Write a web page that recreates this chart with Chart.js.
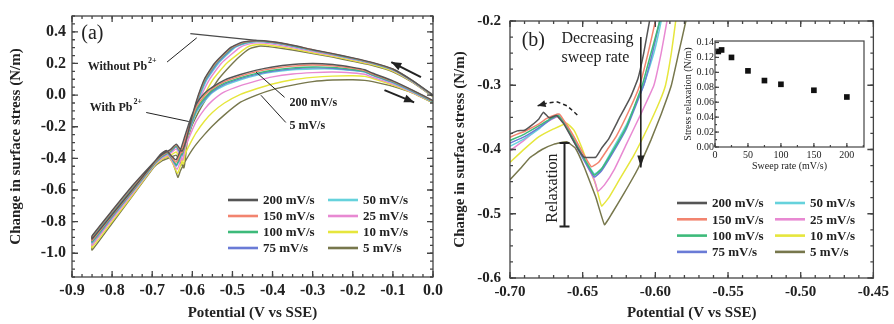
<!DOCTYPE html>
<html>
<head>
<meta charset="utf-8">
<script src="https://cdn.jsdelivr.net/npm/chart.js@4.4.1/dist/chart.umd.min.js"></script>
<style>
  html, body { margin: 0; padding: 0; background: #fff; }
  #wrap { position: relative; width: 894px; height: 324px; }
  canvas { position: absolute; }
</style>
</head>
<body>
<div id="wrap">
  <canvas id="chartA" width="447" height="324" style="left:0;top:0;width:447px;height:324px"></canvas>
  <canvas id="chartB" width="447" height="324" style="left:447px;top:0;width:447px;height:324px"></canvas>
  <canvas id="chartInset" width="190" height="145" style="left:680px;top:32px;width:190px;height:145px"></canvas>
</div>
<script>
// ---- data ----
const rateLabels = ['200 mV/s', '150 mV/s', '100 mV/s', '75 mV/s', '50 mV/s', '25 mV/s', '10 mV/s', '5 mV/s'];
const rateColors = ['#555555', '#f2846f', '#3dba7a', '#6a7bd6', '#66d2dc', '#e889d2', '#e6e63c', '#77774c'];

// panel (a): full loops, negative sweep from 0 V then positive sweep back
const loopA200 = [[0,0.0],[-0.05,0.09],[-0.10,0.165],[-0.15,0.205],[-0.20,0.235],[-0.25,0.262],[-0.30,0.287],[-0.35,0.315],[-0.40,0.337],[-0.44,0.345],[-0.475,0.335],[-0.505,0.30],[-0.545,0.20],[-0.570,0.10],[-0.585,0.0],[-0.597,-0.10],[-0.607,-0.20],[-0.617,-0.30],[-0.626,-0.355],[-0.64,-0.31],[-0.655,-0.345],[-0.675,-0.375],[-0.70,-0.435],[-0.75,-0.575],[-0.80,-0.73],[-0.85,-0.89],
  [-0.85,-0.91],[-0.80,-0.755],[-0.75,-0.60],[-0.70,-0.44],[-0.68,-0.375],[-0.665,-0.35],[-0.652,-0.385],[-0.641,-0.41],[-0.63,-0.35],[-0.62,-0.27],[-0.61,-0.19],[-0.60,-0.12],[-0.59,-0.055],[-0.57,0.01],[-0.55,0.05],[-0.52,0.095],[-0.48,0.13],[-0.44,0.158],[-0.40,0.178],[-0.35,0.193],[-0.30,0.20],[-0.25,0.193],[-0.20,0.175],[-0.17,0.16],[-0.15,0.138],[-0.10,0.09],[-0.05,0.03],[0,-0.035]];
const loopA150 = [[0,-0.002],[-0.05,0.089],[-0.10,0.164],[-0.15,0.204],[-0.20,0.234],[-0.25,0.261],[-0.30,0.286],[-0.35,0.314],[-0.40,0.336],[-0.44,0.344],[-0.473,0.333],[-0.503,0.30],[-0.543,0.20],[-0.569,0.10],[-0.584,0.0],[-0.596,-0.10],[-0.607,-0.20],[-0.617,-0.30],[-0.626,-0.365],[-0.64,-0.315],[-0.655,-0.35],[-0.675,-0.38],[-0.70,-0.44],[-0.75,-0.58],[-0.80,-0.735],[-0.85,-0.895],
  [-0.85,-0.92],[-0.80,-0.76],[-0.75,-0.605],[-0.70,-0.445],[-0.68,-0.38],[-0.665,-0.352],[-0.652,-0.39],[-0.641,-0.425],[-0.63,-0.37],[-0.62,-0.29],[-0.61,-0.21],[-0.60,-0.14],[-0.59,-0.075],[-0.57,-0.005],[-0.55,0.04],[-0.52,0.085],[-0.48,0.12],[-0.44,0.148],[-0.40,0.168],[-0.35,0.183],[-0.30,0.19],[-0.25,0.185],[-0.20,0.17],[-0.17,0.155],[-0.15,0.133],[-0.10,0.087],[-0.05,0.028],[0,-0.037]];
const loopA100 = [[0,-0.003],[-0.05,0.088],[-0.10,0.162],[-0.15,0.202],[-0.20,0.232],[-0.25,0.259],[-0.30,0.284],[-0.35,0.312],[-0.40,0.334],[-0.44,0.342],[-0.471,0.331],[-0.50,0.30],[-0.541,0.20],[-0.567,0.10],[-0.583,0.0],[-0.596,-0.10],[-0.607,-0.20],[-0.617,-0.30],[-0.626,-0.375],[-0.64,-0.32],[-0.655,-0.355],[-0.675,-0.385],[-0.70,-0.445],[-0.75,-0.585],[-0.80,-0.74],[-0.85,-0.90],
  [-0.85,-0.925],[-0.80,-0.765],[-0.75,-0.61],[-0.70,-0.45],[-0.68,-0.385],[-0.665,-0.355],[-0.652,-0.395],[-0.64,-0.44],[-0.63,-0.385],[-0.62,-0.305],[-0.61,-0.225],[-0.60,-0.155],[-0.59,-0.09],[-0.57,-0.02],[-0.55,0.03],[-0.52,0.075],[-0.48,0.11],[-0.44,0.137],[-0.40,0.157],[-0.35,0.172],[-0.30,0.178],[-0.25,0.175],[-0.20,0.162],[-0.17,0.15],[-0.15,0.128],[-0.10,0.083],[-0.05,0.025],[0,-0.04]];
const loopA75 = [[0,-0.004],[-0.05,0.087],[-0.10,0.161],[-0.15,0.201],[-0.20,0.231],[-0.25,0.258],[-0.30,0.283],[-0.35,0.31],[-0.40,0.332],[-0.44,0.34],[-0.469,0.329],[-0.497,0.30],[-0.538,0.20],[-0.565,0.10],[-0.582,0.0],[-0.595,-0.10],[-0.607,-0.20],[-0.617,-0.30],[-0.626,-0.38],[-0.64,-0.325],[-0.655,-0.358],[-0.675,-0.388],[-0.70,-0.448],[-0.75,-0.588],[-0.80,-0.745],[-0.85,-0.905],
  [-0.85,-0.93],[-0.80,-0.77],[-0.75,-0.612],[-0.70,-0.452],[-0.68,-0.387],[-0.665,-0.357],[-0.652,-0.397],[-0.64,-0.445],[-0.63,-0.39],[-0.62,-0.31],[-0.61,-0.235],[-0.60,-0.165],[-0.59,-0.10],[-0.57,-0.03],[-0.55,0.022],[-0.52,0.068],[-0.48,0.104],[-0.44,0.131],[-0.40,0.151],[-0.35,0.166],[-0.30,0.172],[-0.25,0.17],[-0.20,0.158],[-0.17,0.147],[-0.15,0.125],[-0.10,0.08],[-0.05,0.022],[0,-0.042]];
const loopA50 = [[0,-0.005],[-0.05,0.086],[-0.10,0.16],[-0.15,0.20],[-0.20,0.229],[-0.25,0.256],[-0.30,0.281],[-0.35,0.308],[-0.40,0.33],[-0.435,0.338],[-0.466,0.328],[-0.494,0.30],[-0.535,0.20],[-0.563,0.10],[-0.58,0.0],[-0.594,-0.10],[-0.607,-0.20],[-0.617,-0.30],[-0.626,-0.385],[-0.64,-0.327],[-0.655,-0.36],[-0.675,-0.39],[-0.70,-0.45],[-0.75,-0.59],[-0.80,-0.75],[-0.85,-0.91],
  [-0.85,-0.935],[-0.80,-0.772],[-0.75,-0.615],[-0.70,-0.455],[-0.68,-0.39],[-0.665,-0.36],[-0.652,-0.40],[-0.64,-0.45],[-0.63,-0.395],[-0.62,-0.32],[-0.61,-0.245],[-0.60,-0.175],[-0.59,-0.11],[-0.57,-0.04],[-0.55,0.015],[-0.52,0.06],[-0.48,0.097],[-0.44,0.125],[-0.40,0.145],[-0.35,0.16],[-0.30,0.165],[-0.25,0.165],[-0.20,0.155],[-0.17,0.145],[-0.15,0.123],[-0.10,0.078],[-0.05,0.02],[0,-0.043]];
const loopA25 = [[0,-0.006],[-0.05,0.084],[-0.10,0.157],[-0.15,0.197],[-0.20,0.225],[-0.25,0.251],[-0.30,0.275],[-0.35,0.30],[-0.40,0.322],[-0.435,0.33],[-0.46,0.322],[-0.482,0.30],[-0.528,0.20],[-0.557,0.10],[-0.577,0.0],[-0.592,-0.10],[-0.606,-0.20],[-0.616,-0.30],[-0.624,-0.41],[-0.64,-0.34],[-0.655,-0.37],[-0.675,-0.398],[-0.70,-0.455],[-0.75,-0.597],[-0.80,-0.76],[-0.85,-0.925],
  [-0.85,-0.95],[-0.80,-0.785],[-0.75,-0.625],[-0.70,-0.46],[-0.68,-0.398],[-0.664,-0.37],[-0.652,-0.41],[-0.638,-0.47],[-0.63,-0.42],[-0.62,-0.345],[-0.61,-0.28],[-0.60,-0.22],[-0.59,-0.165],[-0.57,-0.09],[-0.55,-0.035],[-0.52,0.02],[-0.48,0.06],[-0.44,0.09],[-0.40,0.115],[-0.35,0.133],[-0.30,0.142],[-0.25,0.146],[-0.20,0.14],[-0.17,0.132],[-0.15,0.112],[-0.10,0.07],[-0.05,0.016],[0,-0.045]];
const loopA10 = [[0,-0.008],[-0.05,0.081],[-0.10,0.152],[-0.15,0.192],[-0.20,0.219],[-0.25,0.245],[-0.30,0.268],[-0.35,0.292],[-0.40,0.312],[-0.43,0.32],[-0.45,0.315],[-0.465,0.30],[-0.515,0.20],[-0.548,0.10],[-0.57,0.0],[-0.588,-0.10],[-0.604,-0.20],[-0.615,-0.30],[-0.622,-0.435],[-0.64,-0.36],[-0.655,-0.382],[-0.675,-0.405],[-0.70,-0.46],[-0.75,-0.603],[-0.80,-0.77],[-0.85,-0.94],
  [-0.85,-0.965],[-0.80,-0.80],[-0.75,-0.635],[-0.70,-0.465],[-0.68,-0.405],[-0.662,-0.38],[-0.65,-0.425],[-0.637,-0.495],[-0.63,-0.45],[-0.62,-0.385],[-0.61,-0.33],[-0.60,-0.28],[-0.59,-0.235],[-0.57,-0.165],[-0.55,-0.11],[-0.52,-0.05],[-0.48,0.005],[-0.44,0.04],[-0.40,0.07],[-0.35,0.097],[-0.30,0.112],[-0.25,0.12],[-0.20,0.122],[-0.17,0.118],[-0.15,0.105],[-0.10,0.064],[-0.05,0.013],[0,-0.048]];
const loopA5 = [[0,-0.01],[-0.05,0.078],[-0.10,0.147],[-0.15,0.187],[-0.20,0.213],[-0.25,0.24],[-0.30,0.262],[-0.35,0.285],[-0.40,0.303],[-0.43,0.31],[-0.455,0.295],[-0.475,0.26],[-0.50,0.20],[-0.535,0.10],[-0.56,0.0],[-0.583,-0.10],[-0.602,-0.20],[-0.613,-0.30],[-0.621,-0.46],[-0.64,-0.38],[-0.655,-0.395],[-0.675,-0.415],[-0.70,-0.465],[-0.75,-0.61],[-0.80,-0.78],[-0.85,-0.95],
  [-0.85,-0.98],[-0.80,-0.81],[-0.75,-0.64],[-0.70,-0.47],[-0.68,-0.41],[-0.66,-0.39],[-0.648,-0.43],[-0.636,-0.52],[-0.63,-0.48],[-0.62,-0.43],[-0.61,-0.385],[-0.60,-0.345],[-0.59,-0.31],[-0.57,-0.25],[-0.55,-0.195],[-0.52,-0.125],[-0.48,-0.045],[-0.44,0.0],[-0.40,0.035],[-0.35,0.063],[-0.30,0.085],[-0.25,0.095],[-0.20,0.097],[-0.17,0.093],[-0.15,0.085],[-0.10,0.055],[-0.05,0.012],[0,-0.05]];
const noPbA = [[-0.605,0.388],[-0.52,0.366],[-0.44,0.346]];

// panel (b): zoom on the Pb UPD peak, positive sweep
const sweepB200 = [[-0.70,-0.376],[-0.695,-0.371],[-0.69,-0.37],[-0.685,-0.362],[-0.68,-0.352],[-0.677,-0.342],[-0.673,-0.351],[-0.668,-0.347],[-0.663,-0.36],[-0.658,-0.38],[-0.653,-0.40],[-0.649,-0.412],[-0.641,-0.412],[-0.637,-0.398],[-0.632,-0.383],[-0.625,-0.352],[-0.617,-0.318],[-0.612,-0.29],[-0.608,-0.25],[-0.604,-0.20],[-0.60,-0.16]];
const sweepB150 = [[-0.70,-0.381],[-0.695,-0.376],[-0.69,-0.372],[-0.685,-0.366],[-0.68,-0.36],[-0.675,-0.352],[-0.67,-0.347],[-0.666,-0.345],[-0.662,-0.358],[-0.656,-0.38],[-0.65,-0.405],[-0.644,-0.427],[-0.639,-0.42],[-0.633,-0.40],[-0.627,-0.38],[-0.618,-0.339],[-0.611,-0.302],[-0.605,-0.25],[-0.60,-0.20],[-0.597,-0.16]];
const sweepB100 = [[-0.70,-0.386],[-0.69,-0.376],[-0.68,-0.363],[-0.672,-0.352],[-0.667,-0.347],[-0.662,-0.36],[-0.656,-0.385],[-0.65,-0.41],[-0.642,-0.44],[-0.637,-0.43],[-0.63,-0.405],[-0.62,-0.365],[-0.609,-0.30],[-0.603,-0.25],[-0.597,-0.20],[-0.594,-0.16]];
const sweepB75 = [[-0.70,-0.39],[-0.69,-0.38],[-0.68,-0.366],[-0.672,-0.353],[-0.667,-0.348],[-0.662,-0.362],[-0.656,-0.388],[-0.65,-0.413],[-0.642,-0.443],[-0.637,-0.433],[-0.63,-0.408],[-0.62,-0.368],[-0.608,-0.30],[-0.602,-0.25],[-0.597,-0.20],[-0.594,-0.16]];
const sweepB50 = [[-0.70,-0.395],[-0.69,-0.383],[-0.68,-0.368],[-0.672,-0.352],[-0.667,-0.345],[-0.662,-0.36],[-0.656,-0.386],[-0.65,-0.41],[-0.642,-0.438],[-0.637,-0.43],[-0.63,-0.402],[-0.62,-0.362],[-0.608,-0.30],[-0.601,-0.25],[-0.596,-0.20],[-0.593,-0.16]];
const sweepB25 = [[-0.70,-0.402],[-0.69,-0.385],[-0.68,-0.366],[-0.672,-0.354],[-0.667,-0.349],[-0.662,-0.358],[-0.654,-0.39],[-0.647,-0.425],[-0.642,-0.447],[-0.6395,-0.465],[-0.635,-0.455],[-0.628,-0.43],[-0.62,-0.392],[-0.61,-0.345],[-0.601,-0.30],[-0.596,-0.25],[-0.592,-0.20],[-0.589,-0.16]];
const sweepB10 = [[-0.70,-0.42],[-0.69,-0.399],[-0.68,-0.38],[-0.67,-0.368],[-0.661,-0.359],[-0.656,-0.37],[-0.651,-0.395],[-0.646,-0.425],[-0.641,-0.455],[-0.637,-0.488],[-0.632,-0.475],[-0.625,-0.448],[-0.615,-0.41],[-0.605,-0.365],[-0.597,-0.325],[-0.593,-0.30],[-0.589,-0.25],[-0.586,-0.20],[-0.584,-0.16]];
const sweepB5 = [[-0.70,-0.447],[-0.693,-0.43],[-0.686,-0.412],[-0.678,-0.40],[-0.67,-0.392],[-0.661,-0.388],[-0.655,-0.398],[-0.649,-0.427],[-0.641,-0.474],[-0.635,-0.517],[-0.63,-0.50],[-0.622,-0.47],[-0.612,-0.43],[-0.603,-0.385],[-0.596,-0.345],[-0.589,-0.30],[-0.584,-0.25],[-0.579,-0.20],[-0.576,-0.16]];

// inset: stress relaxation vs sweep rate
const insetRates = [5, 10, 25, 50, 75, 100, 150, 200];
const insetRelax = [0.128, 0.130, 0.120, 0.102, 0.089, 0.084, 0.076, 0.067];

// tick labels
const xTicksA = [-0.9, -0.8, -0.7, -0.6, -0.5, -0.4, -0.3, -0.2, -0.1, 0.0];
const yTicksA = [-1.0, -0.8, -0.6, -0.4, -0.2, 0.0, 0.2, 0.4];
const xTicksB = [-0.70, -0.65, -0.60, -0.55, -0.50, -0.45];
const yTicksB = [-0.6, -0.5, -0.4, -0.3, -0.2];
const xTicksInset = [0, 50, 100, 150, 200];
const yTicksInset = [0, 0.02, 0.04, 0.06, 0.08, 0.10, 0.12, 0.14];

const loopsA = [loopA200, loopA150, loopA100, loopA75, loopA50, loopA25, loopA10, loopA5];
const sweepsB = [sweepB200, sweepB150, sweepB100, sweepB75, sweepB50, sweepB25, sweepB10, sweepB5];

// ---- style ----
const SERIF = "'Liberation Serif', 'Times New Roman', serif";
const INK = '#222';
const toPts = (arr) => arr.map(([x, y]) => ({ x, y }));

// frame on all four sides with ticks pointing inwards (Origin look)
const frameTicks = {
  id: 'frameTicks',
  afterDraw(chart, args, o) {
    const { ctx, chartArea: a, scales: { x, y } } = chart;
    const sides = o.sides || 'lbtr';
    ctx.save();
    ctx.strokeStyle = '#444';
    ctx.lineWidth = o.lineWidth || 1.3;
    ctx.strokeRect(a.left, a.top, a.right - a.left, a.bottom - a.top);
    const tick = (scale, v, len) => {
      const p = scale.getPixelForValue(v);
      ctx.beginPath();
      if (scale === x) {
        if (sides.includes('b')) { ctx.moveTo(p, a.bottom); ctx.lineTo(p, a.bottom - len); }
        if (sides.includes('t')) { ctx.moveTo(p, a.top); ctx.lineTo(p, a.top + len); }
      } else {
        if (sides.includes('l')) { ctx.moveTo(a.left, p); ctx.lineTo(a.left + len, p); }
        if (sides.includes('r')) { ctx.moveTo(a.right, p); ctx.lineTo(a.right - len, p); }
      }
      ctx.stroke();
    };
    for (const [scale, step] of [[x, o.xMinor], [y, o.yMinor]]) {
      const n0 = Math.ceil(scale.min / step - 1e-6), n1 = Math.floor(scale.max / step + 1e-6);
      for (let n = n0; n <= n1; n++) tick(scale, n * step, o.minorLen || 3);
      scale.ticks.forEach((t) => tick(scale, t.value, o.majorLen || 6));
    }
    ctx.restore();
  },
};

function arrowHead(ctx, from, to, len, half) {
  const ang = Math.atan2(to[1] - from[1], to[0] - from[0]);
  ctx.beginPath();
  ctx.moveTo(to[0], to[1]);
  ctx.lineTo(to[0] - len * Math.cos(ang) + half * Math.sin(ang), to[1] - len * Math.sin(ang) - half * Math.cos(ang));
  ctx.lineTo(to[0] - len * Math.cos(ang) - half * Math.sin(ang), to[1] - len * Math.sin(ang) + half * Math.cos(ang));
  ctx.closePath();
  ctx.fill();
}

// labels, leader lines and arrows placed in data coordinates
const notes = {
  id: 'notes',
  afterDatasetsDraw(chart, args, o) {
    const { ctx, scales: { x, y } } = chart;
    ctx.save();
    for (const n of o.items || []) {
      ctx.strokeStyle = ctx.fillStyle = n.color || INK;
      if (n.text) {
        ctx.save();
        ctx.translate(x.getPixelForValue(n.at[0]), y.getPixelForValue(n.at[1]));
        if (n.rotate) ctx.rotate(n.rotate);
        ctx.font = n.font;
        ctx.textBaseline = 'middle';
        ctx.textAlign = n.align || 'left';
        ctx.fillText(n.text, 0, 0);
        if (n.sup) {
          const w = ctx.measureText(n.text).width;
          ctx.font = n.supFont;
          ctx.textAlign = 'left';
          ctx.fillText(n.sup, w + 1, -6);
        }
        ctx.restore();
      } else if (n.path) {
        const pts = n.path.map(([a, b]) => [x.getPixelForValue(a), y.getPixelForValue(b)]);
        ctx.lineWidth = n.width || 1;
        ctx.setLineDash(n.dash || []);
        ctx.beginPath();
        pts.forEach(([a, b], i) => (i ? ctx.lineTo(a, b) : ctx.moveTo(a, b)));
        ctx.stroke();
        ctx.setLineDash([]);
        if (n.head) arrowHead(ctx, pts[pts.length - 2], pts[pts.length - 1], n.head[0], n.head[1]);
        if (n.caps) {
          ctx.beginPath();
          for (const [a, b] of [pts[0], pts[pts.length - 1]]) { ctx.moveTo(a - n.caps, b); ctx.lineTo(a + n.caps, b); }
          ctx.stroke();
        }
      }
    }
    ctx.restore();
  },
};

// two-column legend drawn inside the plot
const boxLegend = {
  id: 'boxLegend',
  afterDraw(chart, args, o) {
    if (!o.cols) return;
    const { ctx } = chart;
    const items = chart.data.datasets.filter((d) => !d.noLegend);
    ctx.save();
    ctx.font = o.font;
    ctx.textBaseline = 'middle';
    ctx.fillStyle = INK;
    items.forEach((d, i) => {
      const col = Math.floor(i / o.rows), row = i % o.rows;
      const lx = o.cols[col], ly = o.top + row * o.rowGap;
      ctx.strokeStyle = d.borderColor;
      ctx.lineWidth = 2.6;
      ctx.beginPath();
      ctx.moveTo(lx, ly);
      ctx.lineTo(lx + o.lineLen, ly);
      ctx.stroke();
      ctx.fillText(d.label, lx + o.lineLen + 5, ly + 1);
    });
    ctx.restore();
  },
};

function axis(min, max, tickList, fmt, title, o) {
  return {
    type: 'linear',
    min, max,
    afterBuildTicks: (s) => { s.ticks = tickList.map((v) => ({ value: v })); },
    afterFit: o.fit,
    grid: { display: false, drawTicks: false },
    border: { display: false },
    ticks: { color: INK, font: o.tickFont, padding: o.pad, autoSkip: false, maxRotation: 0, callback: fmt },
    title: { display: true, text: title, color: INK, font: o.titleFont, padding: o.titlePad },
  };
}

const tickFontA = { family: SERIF, size: 16, weight: 'bold' };
const tickFontB = { family: SERIF, size: 15, weight: 'bold' };
const titleFont = { family: SERIF, size: 15, weight: 'bold' };
const base = { responsive: false, animation: false, events: [] };

// ---- panel (a) ----
new Chart(document.getElementById('chartA'), {
  type: 'scatter',
  data: {
    datasets: [
      ...loopsA.map((loop, i) => ({
        label: rateLabels[i], data: toPts(loop), borderColor: rateColors[i],
        showLine: true, pointRadius: 0, borderWidth: 1.4, tension: 0.15,
      })),
      { label: 'Without Pb', noLegend: true, data: toPts(noPbA), borderColor: '#4a4a4a', showLine: true, pointRadius: 0, borderWidth: 1.2 },
    ],
  },
  options: {
    ...base,
    layout: { padding: { left: 0, right: 10, top: 16, bottom: 0 } },
    plugins: {
      legend: { display: false },
      tooltip: { enabled: false },
      frameTicks: { xMinor: 0.025, yMinor: 0.05 },
      boxLegend: { cols: [228, 328], top: 200, rowGap: 16, rows: 4, lineLen: 30, font: 'bold 13px ' + SERIF },
      notes: {
        items: [
          { text: '(a)', at: [-0.877, 0.388], font: '20px ' + SERIF },
          { text: 'Without Pb', sup: '2+', at: [-0.861, 0.177], font: 'bold 12px ' + SERIF, supFont: 'bold 8px ' + SERIF },
          { path: [[-0.663, 0.209], [-0.589, 0.362]], width: 1 },
          { text: 'With Pb', sup: '2+', at: [-0.856, -0.084], font: 'bold 12px ' + SERIF, supFont: 'bold 8px ' + SERIF },
          { path: [[-0.715, -0.11], [-0.609, -0.167]], width: 1 },
          { text: '200 mV/s', at: [-0.358, -0.052], font: 'bold 12px ' + SERIF },
          { path: [[-0.441, 0.145], [-0.370, -0.014]], width: 1 },
          { text: '5 mV/s', at: [-0.358, -0.192], font: 'bold 12px ' + SERIF },
          { path: [[-0.429, -0.001], [-0.367, -0.173]], width: 1 },
          { path: [[-0.030, 0.113], [-0.104, 0.209]], width: 2, head: [10, 4] },
          { path: [[-0.121, 0.031], [-0.047, -0.046]], width: 2, head: [10, 4] },
        ],
      },
    },
    scales: {
      x: axis(-0.9, 0, xTicksA, (v) => v.toFixed(1), 'Potential (V vs SSE)',
        { fit: (s) => { s.height = 47; }, tickFont: tickFontA, titleFont, pad: 4, titlePad: { top: 0, bottom: 2 } }),
      y: axis(-1.15, 0.5, yTicksA, (v) => v.toFixed(1), 'Change in surface stress (N/m)',
        { fit: (s) => { s.width = 72; }, tickFont: tickFontA, titleFont, pad: 6, titlePad: { top: 7, bottom: 0 } }),
    },
  },
  plugins: [frameTicks, notes, boxLegend],
});

// ---- panel (b) ----
new Chart(document.getElementById('chartB'), {
  type: 'scatter',
  data: {
    datasets: sweepsB.map((sweep, i) => ({
      label: rateLabels[i], data: toPts(sweep), borderColor: rateColors[i],
      showLine: true, pointRadius: 0, borderWidth: 1.5, tension: 0.1,
    })),
  },
  options: {
    ...base,
    layout: { padding: { left: 0, right: 17, top: 21, bottom: 0 } },
    plugins: {
      legend: { display: false },
      tooltip: { enabled: false },
      frameTicks: { xMinor: 0.01, yMinor: 0.025 },
      boxLegend: { cols: [230, 328], top: 203, rowGap: 16.3, rows: 4, lineLen: 30, font: 'bold 13px ' + SERIF },
      notes: {
        items: [
          { text: '(b)', at: [-0.692, -0.230], font: '20px ' + SERIF },
          { text: 'Decreasing', at: [-0.6646, -0.228], font: '16px ' + SERIF },
          { text: 'sweep rate', at: [-0.6646, -0.2576], font: '16px ' + SERIF },
          { path: [[-0.610, -0.225], [-0.610, -0.428]], width: 1.6, head: [12, 3.5] },
          { text: 'Relaxation', at: [-0.6707, -0.46], rotate: -Math.PI / 2, align: 'center', font: '16px ' + SERIF },
          { path: [[-0.6625, -0.39], [-0.6625, -0.520]], width: 2, caps: 5 },
          { path: [[-0.6537, -0.3463], [-0.6605, -0.3323], [-0.6673, -0.326], [-0.674, -0.3276], [-0.681, -0.332]],
            width: 1.5, dash: [4, 3], head: [8, 3.5] },
        ],
      },
    },
    scales: {
      x: axis(-0.70, -0.45, xTicksB, (v) => v.toFixed(2), 'Potential (V vs SSE)',
        { fit: (s) => { s.height = 46; }, tickFont: tickFontB, titleFont, pad: 5, titlePad: { top: 0, bottom: 2 } }),
      y: axis(-0.6, -0.2, yTicksB, (v) => v.toFixed(1), 'Change in surface stress (N/m)',
        { fit: (s) => { s.width = 63; }, tickFont: tickFontB, titleFont, pad: 9, titlePad: { top: 4, bottom: 0 } }),
    },
  },
  plugins: [frameTicks, notes, boxLegend],
});

// ---- inset ----
const smallTick = { family: SERIF, size: 10 };
new Chart(document.getElementById('chartInset'), {
  type: 'scatter',
  data: {
    datasets: [{
      label: 'Stress relaxation',
      data: insetRates.map((r, i) => ({ x: r, y: insetRelax[i] })),
      pointStyle: 'rect', pointRadius: 4, backgroundColor: '#111', borderColor: '#111', borderWidth: 0,
    }],
  },
  options: {
    ...base,
    layout: { padding: { left: 0, right: 6, top: 9, bottom: 0 } },
    plugins: {
      legend: { display: false },
      tooltip: { enabled: false },
      frameTicks: { xMinor: 25, yMinor: 0.01, sides: 'lb', majorLen: 4, minorLen: 2, lineWidth: 1.2 },
    },
    scales: {
      x: axis(0, 226, xTicksInset, (v) => String(v), 'Sweep rate (mV/s)',
        { fit: (s) => { s.height = 30; }, tickFont: smallTick, titleFont: smallTick, pad: 2, titlePad: { top: 0, bottom: 5 } }),
      y: axis(0, 0.142, yTicksInset, (v) => v.toFixed(2), 'Stress relaxation (N/m)',
        { fit: (s) => { s.width = 35; }, tickFont: smallTick, titleFont: smallTick, pad: 1, titlePad: { top: 2, bottom: 0 } }),
    },
  },
  plugins: [frameTicks],
});
</script>
</body>
</html>
